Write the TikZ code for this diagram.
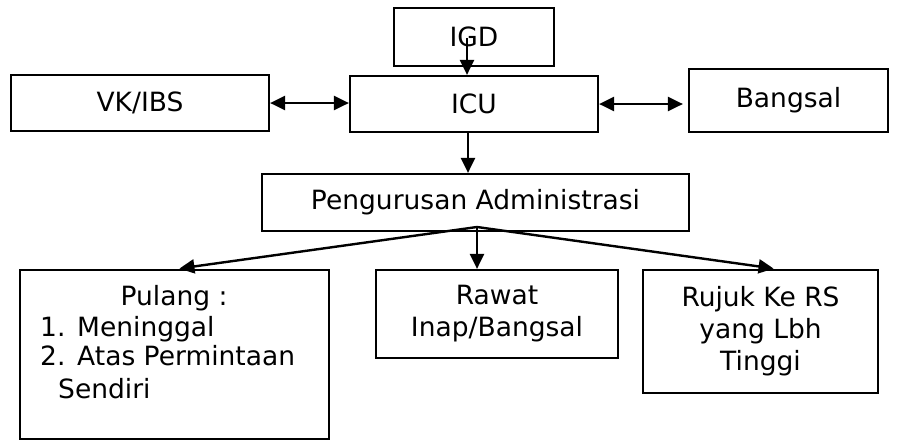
\documentclass[tikz,border=0pt]{standalone}
\usepackage{fontspec}
\setmainfont{DejaVu Sans}
\usetikzlibrary{arrows.meta,calc}
\begin{document}
\begin{tikzpicture}[x=1pt,y=-1pt,
  box/.style={draw,line width=2.2pt,inner sep=0pt,align=center,font=\fontsize{26.5}{32}\selectfont},
  arr/.style={line width=2.4pt,-{Triangle[length=15pt,width=14pt]}},
  darr/.style={line width=2.4pt,{Triangle[length=15pt,width=14pt]}-{Triangle[length=15pt,width=14pt]}},
  txt/.style={font=\fontsize{26.5}{32}\selectfont,inner sep=0pt,anchor=base west}]
\useasboundingbox (0,0) rectangle (910,440);
\node[box,minimum width=160pt,minimum height=58pt] (igd) at (474,37) {IGD};
\node[box,minimum width=248pt,minimum height=56pt] (icu) at (474,104) {ICU};
\node[box,minimum width=258pt,minimum height=56pt] (vk) at (140,103) {VK/IBS};
\node[box,minimum width=199pt,minimum height=63pt] (bangsal) at (788.5,100.5) {Bangsal};
\node[box,minimum width=427pt,minimum height=57pt] (peng) at (475.5,202.5) {Pengurusan Administrasi};
\node[box,minimum width=309pt,minimum height=169pt] (pulang) at (174.5,354.5) {};
\node[box,minimum width=242pt,minimum height=88pt] (rawat) at (497,314) {Rawat\\Inap/Bangsal};
\node[box,minimum width=235pt,minimum height=123pt] (rujuk) at (760.5,331.5) {Rujuk Ke RS\\yang Lbh\\Tinggi};
\node[txt,anchor=base] (t0) at (174,305) {Pulang :};
\node[txt] (n1) at (40,336) {1.};
\node[txt] (t1) at (77,336) {Meninggal};
\node[txt] (n2) at (40,365) {2.};
\node[txt] (t2) at (77,365) {Atas Permintaan};
\node[txt] (t3) at (58,398) {Sendiri};
\coordinate (igds) at (467,38);
\draw[arr] (igds) -- (igds |- icu.north);
\draw[darr] (vk.east) -- (vk.east -| icu.west);
\draw[darr,shorten >=5pt] (icu.east) -- (icu.east -| bangsal.west);
\draw[arr] ([xshift=-6pt]icu.south) -- ([xshift=-6pt]icu.south |- peng.north);
\coordinate (hub) at (477,227);
\draw[arr,shorten >=3pt] (hub) -- ([xshift=2pt]pulang.north);
\draw[arr] (hub) -- (hub |- rawat.north);
\draw[arr,shorten >=3pt] (hub) -- ([xshift=16pt]rujuk.north);
\end{tikzpicture}
\end{document}
